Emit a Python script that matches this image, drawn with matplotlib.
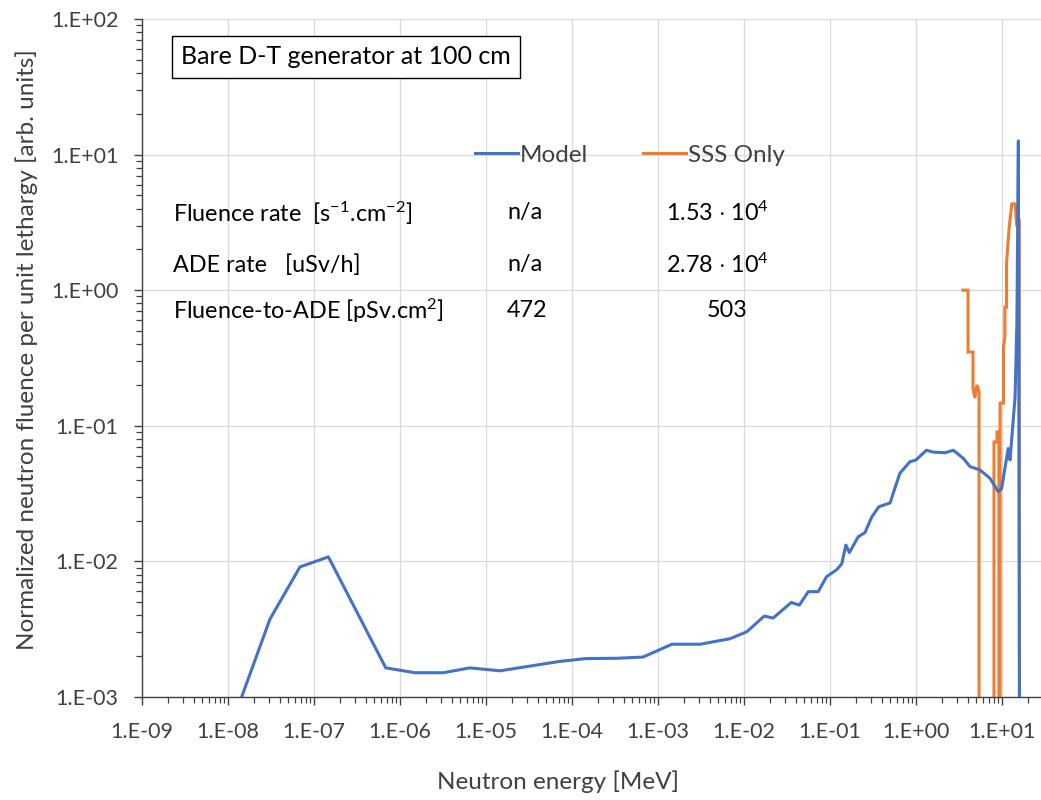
import numpy as np
import matplotlib
matplotlib.use("Agg")
import matplotlib.pyplot as plt
from matplotlib.ticker import LogLocator, FuncFormatter, NullFormatter

plt.rcParams['font.family'] = ['Lato', 'DejaVu Sans']
plt.rcParams['mathtext.fontset'] = 'custom'
plt.rcParams['mathtext.rm'] = 'Lato'
plt.rcParams['mathtext.it'] = 'Lato:italic'
plt.rcParams['mathtext.bf'] = 'Lato:bold'

# ---- data ----
model_E = [1.44e-8, 3.08e-8, 6.87e-8, 1.47e-7, 6.83e-7, 1.49e-6, 3.19e-6, 6.5e-6, 1.45e-5,
           7.2e-5, 1.45e-4, 3.3e-4, 6.7e-4, 1.45e-3, 3.1e-3, 6.87e-3, 1.08e-2, 1.72e-2,
           2.18e-2, 3.55e-2, 4.4e-2, 5.6e-2, 7.3e-2, 9.1e-2, 0.12, 0.137, 0.153, 0.168,
           0.213, 0.255, 0.305, 0.37, 0.5, 0.545, 0.65, 0.85, 1.0, 1.32, 1.58, 2.17, 2.72,
           3.55, 4.25, 5.55, 7.25, 9.06, 9.9, 11.8, 12.4, 14.2, 14.9, 15.5, 16.2]
model_v = [1.0e-3, 3.76e-3, 9.1e-3, 1.08e-2, 1.64e-3, 1.51e-3, 1.51e-3, 1.64e-3, 1.56e-3,
           1.83e-3, 1.92e-3, 1.93e-3, 1.97e-3, 2.45e-3, 2.45e-3, 2.69e-3, 3.03e-3, 3.95e-3,
           3.82e-3, 4.98e-3, 4.76e-3, 5.98e-3, 5.98e-3, 7.7e-3, 8.7e-3, 9.6e-3, 1.32e-2, 1.16e-2,
           1.52e-2, 1.63e-2, 2.12e-2, 2.53e-2, 2.7e-2, 3.2e-2, 4.47e-2, 5.43e-2, 5.6e-2, 6.6e-2,
           6.4e-2, 6.33e-2, 6.6e-2, 5.75e-2, 5.0e-2, 4.72e-2, 4.1e-2, 3.27e-2, 3.45e-2, 6.8e-2,
           5.6e-2, 0.164, 0.58, 12.6, 1e-5]

sss_E = [3.52, 4.03, 4.03, 4.6, 4.6, 4.85, 5.1, 5.41, 5.41, 8.07, 8.07, 8.75, 8.75, 9.2, 9.2,
         9.5, 9.5, 10.4, 10.4, 10.8, 10.8, 11.3, 11.3, 12.1, 12.1, 13.0, 14.2, 14.8, 15.9, 15.9, 16.2]
sss_v = [1.0, 1.0, 0.35, 0.35, 0.19, 0.16, 0.2, 0.18, 1e-5, 1e-5, 0.076, 0.076, 0.09, 0.09, 1e-5,
         1e-5, 0.147, 0.147, 0.377, 0.455, 0.75, 0.75, 1.59, 2.88, 2.88, 4.33, 4.33, 3.08, 3.2,
         3.0e-3, 1e-5]

x_ticks = [10.0 ** k for k in range(-9, 2)]
y_ticks = [10.0 ** k for k in range(-3, 3)]

rows = ["Fluence rate  [s$^{-1}$.cm$^{-2}$]", "ADE rate   [uSv/h]", "Fluence-to-ADE [pSv.cm$^{2}$]"]
col_model = ["n/a", "n/a", "472"]
col_sss = ["1.53 $\\cdot$ 10$^{4}$", "2.78 $\\cdot$ 10$^{4}$", "503"]

BLUE = '#4472C4'
ORANGE = '#ED7D31'
GREY = '#404040'

W, H = 1041, 800
fig = plt.figure(figsize=(W / 100, H / 100), dpi=100)
# axes spans 1e-9 .. 1e2 ; right part cropped by the figure edge
x0, x1 = 142, 142 + 11 * 86
y0, y1 = 697, 19
ax = fig.add_axes([x0 / W, 1 - y0 / H, (x1 - x0) / W, (y0 - y1) / H])
ax.set_xscale('log')
ax.set_yscale('log')
ax.set_xlim(1e-9, 1e2)
ax.set_ylim(1e-3, 1e2)

ax.plot(model_E, model_v, color=BLUE, lw=2.2, label='Model', solid_joinstyle='round', zorder=3)
ax.plot(sss_E, sss_v, color=ORANGE, lw=2.2, label='SSS Only', solid_joinstyle='miter', zorder=2)

ax.set_xticks(x_ticks)
ax.set_yticks(y_ticks)
def lab(v, p):
    e = int(round(np.log10(v)))
    return "1.E%s%02d" % ('+' if e >= 0 else '-', abs(e))
ax.xaxis.set_major_formatter(FuncFormatter(lab))
ax.yaxis.set_major_formatter(FuncFormatter(lab))
ax.xaxis.set_minor_locator(LogLocator(base=10, subs=np.arange(2, 10), numticks=100))
ax.yaxis.set_minor_locator(LogLocator(base=10, subs=np.arange(2, 10), numticks=100))
ax.xaxis.set_minor_formatter(NullFormatter())
ax.yaxis.set_minor_formatter(NullFormatter())

ax.tick_params(axis='both', which='major', direction='out', length=6, width=1.0,
               labelsize=15.5, color=GREY, labelcolor=GREY)
ax.tick_params(axis='both', which='minor', direction='out', length=4.5, width=0.9, color=GREY)
ax.tick_params(axis='x', which='major', pad=12)
ax.tick_params(axis='y', which='major', pad=11)

ax.grid(True, which='major', color='#D9D9D9', lw=0.9)
ax.set_axisbelow(True)
for s in ['top', 'right']:
    ax.spines[s].set_visible(False)
for s in ['left', 'bottom']:
    ax.spines[s].set_color(GREY)
    ax.spines[s].set_linewidth(1.0)

fig.text(558 / W, 1 - 782 / H, "Neutron energy [MeV]", ha='center', va='center',
         fontsize=17.5, color=GREY)
fig.text(27 / W, 1 - 350 / H, "Normalized neutron fluence per unit lethargy [arb. units]",
         ha='center', va='center', rotation=90, fontsize=17.5, color=GREY)

# title box
fig.text(181 / W, 1 - 57 / H, "Bare D-T generator at 100 cm", ha='left', va='center',
         fontsize=18, color='black',
         bbox=dict(boxstyle='square,pad=0.38', fc='white', ec='black', lw=1.0))

leg = ax.legend(loc='center', bbox_to_anchor=((630 - x0) / (x1 - x0), (y0 - 155) / (y0 - y1)),
                ncol=2, frameon=False, fontsize=17.5, handlelength=1.75, handletextpad=0.1,
                columnspacing=2.25, labelcolor=GREY)

row_y = [213, 265, 311]
for r, m, yy in zip(rows, col_model, row_y):
    fig.text(173 / W, 1 - yy / H, r, ha='left', va='center', fontsize=16.8, color='black')
    fig.text(507 / W, 1 - yy / H, m, ha='left', va='center', fontsize=16.8, color='black')
for s, yy, xx in zip(col_sss, row_y, [666, 666, 707]):
    fig.text(xx / W, 1 - yy / H, s, ha='left', va='center', fontsize=16.8, color='black')

fig.savefig('out.png', dpi=100)
